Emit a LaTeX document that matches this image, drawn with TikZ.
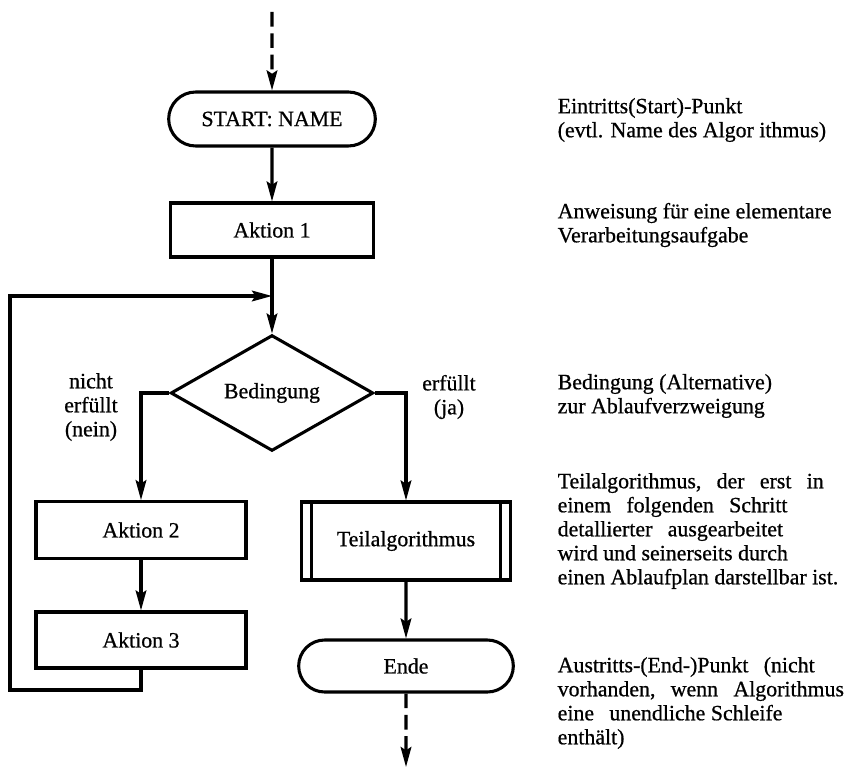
\documentclass[tikz,border=0pt]{standalone}
\usepackage{fontspec}
\setmainfont{Liberation Serif}[UprightFeatures={FakeBold=0.7}]
\usetikzlibrary{shapes.geometric,shapes.misc,arrows.meta}
\newcommand{\wsp}{\hspace{0.7em}}

\tikzset{
  procbox/.style={draw, rectangle, line width=2.3pt, inner sep=0pt},
  termbox/.style={draw, rounded rectangle, line width=2.3pt, inner sep=0pt},
  condbox/.style={draw, diamond, line width=2.3pt, inner sep=0pt},
  flow/.style={line width=2.3pt, -{Stealth[length=15pt,width=8pt,inset=2.5pt]}},
  dashline/.style={dash pattern=on 11pt off 5pt},
  desc/.style={anchor=west, align=left},
}

\begin{document}
\begin{tikzpicture}[x=0.75pt, y=-0.75pt, font=\fontsize{16.4}{18}\selectfont]
        \useasboundingbox (0,0) rectangle (845,770);

        % Flowchart nodes
        \node[termbox, minimum width=155pt, minimum height=40.5pt] (start) at (272,119) {START: NAME};
        \node[procbox, minimum width=152pt, minimum height=40.5pt] (akt1) at (272,230) {Aktion 1};
        \node[condbox, minimum width=152pt, minimum height=80pt] (cond) at (272,393) {Bedingung};
        \node[procbox, minimum width=157.5pt, minimum height=42.5pt] (akt2) at (141,530) {Aktion 2};
        \node[procbox, minimum width=157.5pt, minimum height=42pt] (akt3) at (141,640) {Aktion 3};
        \node[procbox, minimum width=157pt, minimum height=58.5pt] (teil) at (406,541) {Teilalgorithmus};
        \node[termbox, minimum width=161pt, minimum height=39pt] (ende) at (406,666) {Ende};

        % Sub-algorithm side bars
        \draw[line width=2.3pt] ([xshift=9pt]teil.north west) -- ([xshift=9pt]teil.south west);
        \draw[line width=2.3pt] ([xshift=-9pt]teil.north east) -- ([xshift=-9pt]teil.south east);

        % Free ends
        \coordinate (entry) at (272,12);
        \coordinate (exit) at (406,767);
        \coordinate (join) at (272,296);
        \coordinate (loopbl) at (10,690);

        % Connectors
        \draw[flow, dashline] (entry) -- (start);
        \draw[flow] (start) -- (akt1);
        \draw[flow] (akt1) -- (cond);
        \draw[flow] (cond.west) -| (akt2.north);
        \draw[flow] (cond.east) -| (teil.north);
        \draw[flow] (akt2) -- (akt3);
        \draw[flow] (akt3.south) |- (loopbl) |- (join);
        \draw[flow] (teil) -- (ende);
        \draw[flow, dashline] (ende) -- (exit);

        % Branch labels
        \node[align=center] (lblno) at (91,407) {nicht\\erfüllt\\(nein)};
        \node[align=center] (lblyes) at (449,397) {erfüllt\\(ja)};

        % Descriptions
        \node[desc] (dstart) at (553,120) {Eintritts(Start)-Punkt\\(evtl. Name des Algor ithmus)};
        \node[desc] (dakt) at (553,225) {Anweisung für eine elementare\\Verarbeitungsaufgabe};
        \node[desc] (dcond) at (553,396) {Bedingung (Alternative)\\zur Ablaufverzweigung};
        \node[desc] (dteil) at (553,531) {Teilalgorithmus,\wsp der\wsp erst\wsp in\\einem\wsp folgenden\wsp Schritt\\detallierter\wsp ausgearbeitet\\wird und seinerseits durch\\einen Ablaufplan darstellbar ist.};
        \node[desc] (dende) at (553,703) {Austritts-(End-)Punkt\wsp (nicht\\vorhanden,\wsp wenn\wsp Algorithmus\\eine\wsp unendliche Schleife\\enthält)};
    \end{tikzpicture}
\end{document}
